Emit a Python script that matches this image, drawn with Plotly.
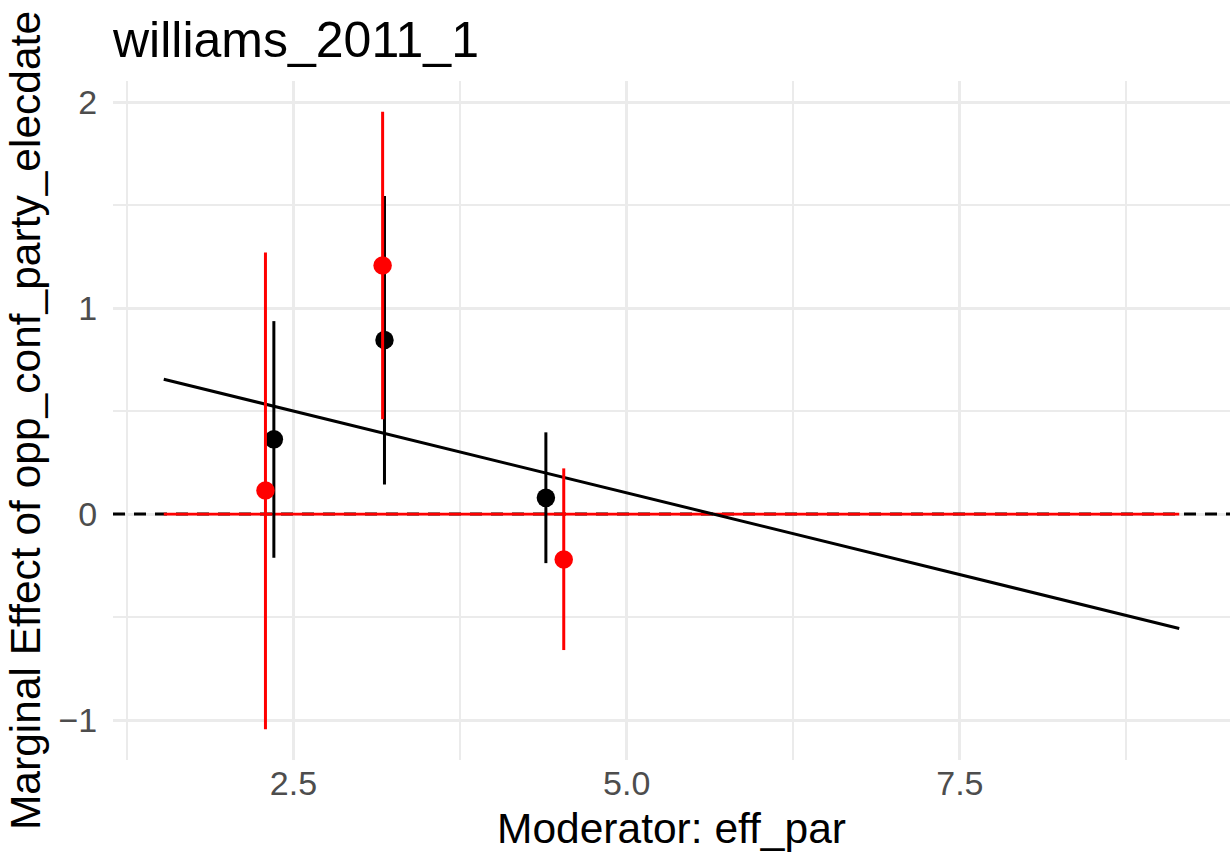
import plotly.graph_objects as go

# Moderator support and the linear marginal-effect estimate at its ends
moderator_range = [1.527, 9.146]
linear_me = [0.655, -0.555]
reference_me = [0.0, 0.0]

# Binned estimates (black) with 95% intervals
bin_x_black = [2.353, 3.183, 4.394]
bin_me_black = [0.363, 0.845, 0.079]
bin_lo_black = [-0.212, 0.144, -0.238]
bin_hi_black = [0.937, 1.545, 0.397]

# Binned estimates (red) with 95% intervals
bin_x_red = [2.290, 3.169, 4.528]
bin_me_red = [0.115, 1.207, -0.220]
bin_lo_red = [-1.044, 0.461, -0.660]
bin_hi_red = [1.270, 1.953, 0.222]

x_ticks = [2.5, 5.0, 7.5]
y_ticks = [-1, 0, 1, 2]
zero_level = 0.0

FONT = "Liberation Sans, Arial, sans-serif"
GRID = "#EBEBEB"


def expanded(values, frac=0.05):
    lo, hi = min(values), max(values)
    pad = (hi - lo) * frac
    return [lo - pad, hi + pad]


x_range = expanded(moderator_range + bin_x_black + bin_x_red)
y_range = expanded(linear_me + reference_me + bin_lo_black + bin_hi_black
                   + bin_lo_red + bin_hi_red)

fig = go.Figure()

# dashed zero reference spanning the whole panel
fig.add_trace(go.Scatter(
    x=x_range, y=[zero_level, zero_level], mode="lines",
    line=dict(color="black", width=3, dash="12px,9px"),
    hoverinfo="skip", showlegend=False))

fig.add_trace(go.Scatter(
    x=moderator_range, y=reference_me, mode="lines",
    line=dict(color="red", width=2.6), hoverinfo="skip", showlegend=False))

fig.add_trace(go.Scatter(
    x=moderator_range, y=linear_me, mode="lines",
    line=dict(color="black", width=3), showlegend=False))


def binned(xs, me, lo, hi, color):
    return go.Scatter(
        x=xs, y=me, mode="markers",
        marker=dict(color=color, size=18.5, line=dict(width=0)),
        error_y=dict(type="data", symmetric=False,
                     array=[h - m for h, m in zip(hi, me)],
                     arrayminus=[m - l for m, l in zip(me, lo)],
                     color=color, thickness=3, width=0),
        showlegend=False)


fig.add_trace(binned(bin_x_black, bin_me_black, bin_lo_black, bin_hi_black, "black"))
fig.add_trace(binned(bin_x_red, bin_me_red, bin_lo_red, bin_hi_red, "red"))

fig.update_layout(
    width=1230, height=857,
    paper_bgcolor="white", plot_bgcolor="white",
    margin=dict(l=113, r=0, t=81, b=97),
    font=dict(family=FONT, color="black"),
    title=dict(text="williams_2011_1", font=dict(size=50, color="black"),
               xref="paper", x=0, xanchor="left",
               yref="container", y=1 - 39 / 857, yanchor="middle"),
)

fig.update_xaxes(
    range=x_range, tickvals=x_ticks, ticktext=[f"{v:.1f}" for v in x_ticks],
    showgrid=True, gridcolor=GRID, gridwidth=2.6, zeroline=False,
    minor=dict(dtick=1.25, tick0=0, showgrid=True, gridcolor=GRID, gridwidth=1.7),
    ticks="", tickfont=dict(size=34, color="#4D4D4D"),
    title=dict(text="Moderator: eff_par", font=dict(size=42.5, color="black"),
               standoff=12),
    showline=False,
)

fig.update_yaxes(
    range=y_range, tickvals=y_ticks,
    showgrid=True, gridcolor=GRID, gridwidth=2.6, zeroline=False,
    minor=dict(dtick=0.5, tick0=0, showgrid=True, gridcolor=GRID, gridwidth=1.7),
    ticks="outside", ticklen=8, tickcolor="rgba(0,0,0,0)",
    tickfont=dict(size=34, color="#4D4D4D"),
    title=dict(text="Marginal Effect of opp_conf_party_elecdate",
               font=dict(size=42.5, color="black"), standoff=4),
    showline=False,
)

fig.write_html("out.html")
